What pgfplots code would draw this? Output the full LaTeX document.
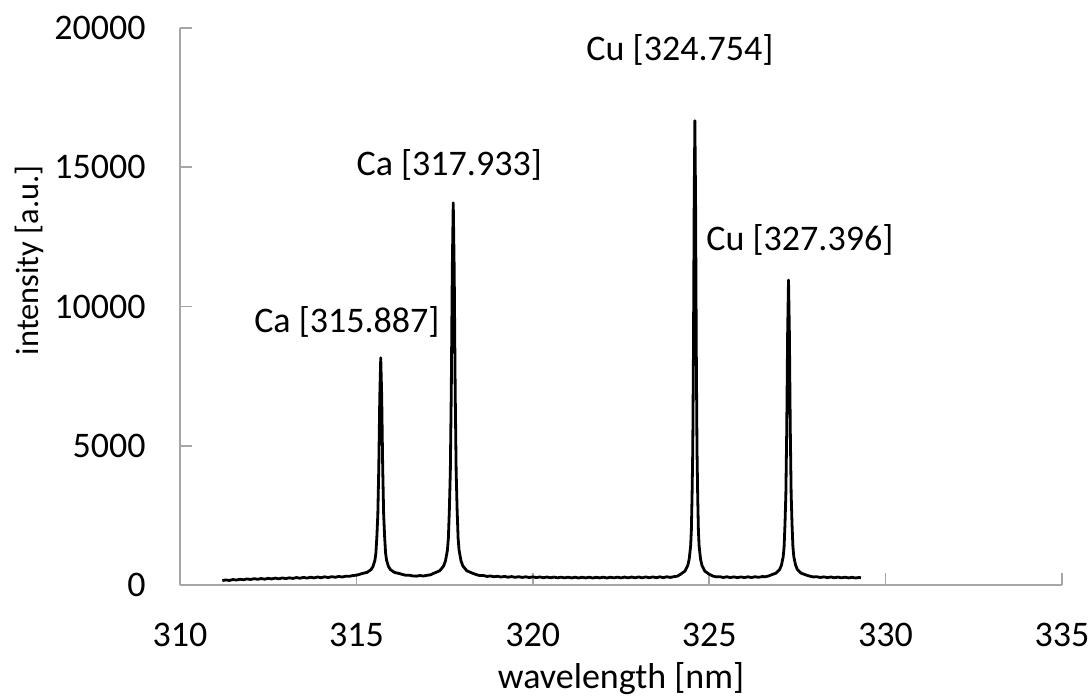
\documentclass[border=0pt]{standalone}
\usepackage{pgfplots}
\pgfplotsset{compat=1.18}
\usepackage{fontspec}
\setmainfont{Carlito}
\newcommand{\lblfont}{\fontsize{18bp}{21bp}\selectfont}
\begin{document}
\begin{tikzpicture}
\begin{axis}[
  name=ax, at={(0,0)}, anchor=south west,
  scale only axis, width=441bp, height=278.5bp,
  xmin=310, xmax=335, ymin=0, ymax=20000,
  xtick={310,315,...,335}, ytick={0,5000,...,20000},
  axis lines=left,
  axis line style={-, draw=gray!70, line width=0.75bp},
  tick align=inside,
  major tick length=6bp,
  tick style={draw=gray!70, line width=0.75bp},
  minor tick num=0,
  scaled ticks=false,
  /pgf/number format/1000 sep={},
  /pgf/number format/assume math mode=true,
  tick label style={font=\lblfont, inner sep=0pt},
  xticklabel style={anchor=north, yshift=-19bp},
  yticklabel style={anchor=east, xshift=-17bp},
  xlabel={wavelength [nm]},
  ylabel={intensity [a.u.]},
  xlabel style={font=\lblfont, at={(axis description cs:0.5,-0.1867)}, anchor=base, inner sep=0pt},
  ylabel style={font=\fontsize{16.2bp}{19bp}\selectfont, at={(axis description cs:-0.1605,0.583)}, anchor=base, inner sep=0pt},
  clip=false,
]
\addplot[black, line width=1.4bp, line join=round] coordinates {
(311.2,160)(311.3,182)(311.4,164)(311.5,196)(311.6,178)(311.7,206)(311.8,188)(311.9,218)(312.0,198)(312.1,228)(312.2,204)(312.3,232)(312.4,210)(312.5,240)(312.6,218)(312.7,248)(312.8,222)(312.9,254)(313.0,230)(313.1,258)(313.2,236)(313.3,268)(313.4,243)(313.5,274)(313.6,248)(313.7,279)(313.8,255)(313.9,288)(314.0,261)(314.1,294)(314.2,268)(314.3,300)(314.4,278)(314.5,308)(314.6,286)(314.7,318)(314.8,312)(314.9,338)(315.0,352)(315.07,375)
(315.14,403)(315.305,455)(315.415,553)(315.47,662)(315.525,889)(315.5525,1147)(315.58,1732)(315.6075,2537)(315.635,4255)(315.6625,6754)(315.69,8160)(315.7175,6754)(315.745,4255)(315.7725,2537)(315.80,1732)(315.8275,1147)(315.855,889)(315.91,662)(315.965,553)(316.075,455)(316.24,403)
(316.3,380)(316.4,348)(316.5,352)(316.6,326)(316.7,318)(316.8,340)(316.9,322)(317.0,348)(317.1,366)
(317.195,421)(317.36,511)(317.47,678)(317.525,866)(317.58,1254)(317.6075,1696)(317.635,2700)(317.6625,4079)(317.69,7025)(317.7175,11310)(317.745,13720)(317.7725,11310)(317.80,7025)(317.8275,4079)(317.855,2700)(317.8825,1696)(317.91,1254)(317.965,866)(318.02,678)(318.13,511)(318.295,421)
(318.4,372)(318.5,338)(318.6,342)(318.7,308)(318.8,324)(318.9,296)(319.0,314)(319.1,286)(319.2,308)(319.3,280)(319.4,302)(319.5,276)(319.6,298)(319.7,272)(319.8,295)(319.9,268)(320.0,292)(320.1,266)(320.2,289)(320.3,262)(320.4,286)(320.5,260)(320.6,284)(320.7,258)(320.8,282)(320.9,256)(321.0,280)(321.1,254)(321.2,279)(321.3,252)(321.4,278)(321.5,254)(321.6,280)(321.7,251)(321.8,277)(321.9,255)(322.0,281)(322.1,252)(322.2,279)(322.3,256)(322.4,283)(322.5,254)(322.6,284)(322.7,257)(322.8,286)(322.9,258)(323.0,290)(323.1,256)(323.2,292)(323.3,260)(323.4,291)(323.5,262)(323.6,294)(323.7,264)(323.8,296)(323.9,272)(324.0,300)(324.1,318)
(324.194,391)(324.314,501)(324.394,706)(324.434,936)(324.474,1411)(324.494,1952)(324.514,3181)(324.534,4869)(324.554,8475)(324.574,13720)(324.594,16670)(324.614,13720)(324.634,8475)(324.654,4869)(324.674,3181)(324.694,1952)(324.714,1411)(324.754,936)(324.794,706)(324.874,501)(324.994,391)
(325.1,322)(325.2,292)(325.3,298)(325.4,270)(325.5,296)(325.6,266)(325.7,292)(325.8,264)(325.9,291)(326.0,266)(326.1,294)(326.2,268)(326.3,297)(326.4,274)(326.5,302)(326.6,298)(326.7,330)
(326.748,358)(326.898,429)(326.998,562)(327.048,712)(327.098,1021)(327.123,1373)(327.148,2173)(327.173,3271)(327.198,5618)(327.223,9030)(327.248,10950)(327.273,9030)(327.298,5618)(327.323,3271)(327.348,2173)(327.373,1373)(327.398,1021)(327.448,712)(327.498,562)(327.598,429)(327.748,358)
(327.85,318)(327.95,290)(328.05,296)(328.15,270)(328.25,292)(328.35,264)(328.45,288)(328.55,260)(328.65,284)(328.75,257)(328.85,280)(328.95,254)(329.05,276)(329.15,252)(329.25,270)(329.3,258)
};
\node[font=\lblfont] at (axis cs:314.73,9440) {Ca [315.887]};
\node[font=\lblfont] at (axis cs:317.63,15080) {Ca [317.933]};
\node[font=\lblfont] at (axis cs:324.17,19210) {Cu [324.754]};
\node[font=\lblfont] at (axis cs:327.57,12390) {Cu [327.396]};
\end{axis}
\pgfresetboundingbox
\path[use as bounding box] (-90bp,-56bp) rectangle (455bp,292.5bp);
\end{tikzpicture}
\end{document}
